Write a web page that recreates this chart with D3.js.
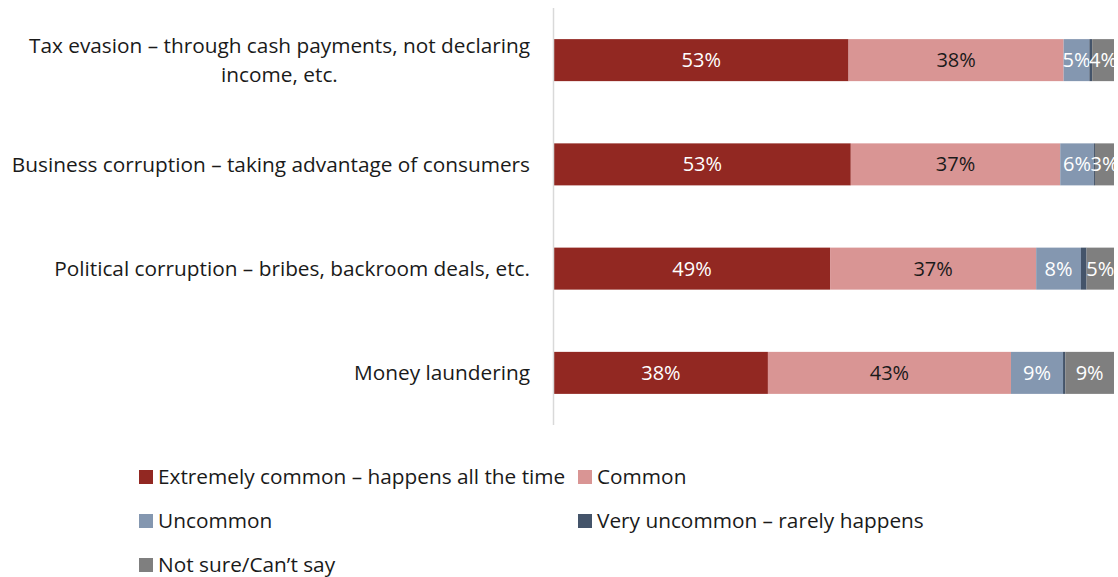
<!DOCTYPE html>
<html>
<head>
<meta charset="utf-8">
<script src="https://cdn.jsdelivr.net/npm/d3@7"></script>
<style>
  html, body { margin: 0; padding: 0; background: #fff; }
  svg { display: block; font-family: "Open Sans", "Noto Sans", sans-serif; }
</style>
</head>
<body>
<svg id="chart" width="1118" height="577"></svg>
<script>
// Survey categories (top to bottom), label lines per category
const categories = [
  ["Tax evasion \u2013 through cash payments, not declaring", "income, etc."],
  ["Business corruption \u2013 taking advantage of consumers"],
  ["Political corruption \u2013 bribes, backroom deals, etc."],
  ["Money laundering"]
];

const seriesNames = [
  "Extremely common \u2013 happens all the time",
  "Common",
  "Uncommon",
  "Very uncommon \u2013 rarely happens",
  "Not sure/Can\u2019t say"
];

// Share of respondents (%) per category, one array per response
const extremelyCommon = [52.6, 53.0, 49.3, 38.2];
const common          = [38.4, 37.4, 36.8, 43.4];
const uncommon        = [4.6, 6.0, 8.0, 9.3];
const veryUncommon    = [0.5, 0.2, 1.0, 0.4];
const notSure         = [3.9, 3.4, 4.9, 8.7];

const seriesColors = ["#922822", "#d99594", "#8497b0", "#44546a", "#7f7f7f"];
const labelColors  = ["#ffffff", "#1a1a1a", "#ffffff", "#ffffff", "#ffffff"];
const minLabelValue = 2;

const series = [extremelyCommon, common, uncommon, veryUncommon, notSure];

const svg = d3.select("#chart");

const y = d3.scaleBand()
  .domain(d3.range(categories.length))
  .range([8, 425])
  .paddingInner(0.597)
  .paddingOuter(0.2985);

const x = d3.scaleLinear().domain([0, 100]).range([554, 1114]);

// Stack the responses left to right
const rows = categories.map((c, i) => {
  const r = { idx: i };
  seriesNames.forEach((s, k) => r[k] = series[k][i]);
  return r;
});
const stacked = d3.stack().keys(d3.range(seriesNames.length))(rows);

const g = svg.append("g");
stacked.forEach((layer, k) => {
  const lg = g.append("g");
  lg.selectAll("rect")
    .data(layer)
    .join("rect")
    .attr("x", d => x(d[0]))
    .attr("y", d => y(d.data.idx))
    .attr("width", d => x(d[1]) - x(d[0]))
    .attr("height", y.bandwidth())
    .attr("fill", seriesColors[k]);
  lg.selectAll("text")
    .data(layer.filter(d => d[1] - d[0] >= minLabelValue))
    .join("text")
    .attr("x", d => (x(d[0]) + x(d[1])) / 2)
    .attr("y", d => y(d.data.idx) + y.bandwidth() / 2)
    .attr("dy", "0.35em")
    .attr("text-anchor", "middle")
    .attr("fill", labelColors[k])
    .style("font-size", "20px")
    .text(d => d3.format(".0f")(d[1] - d[0]) + "%");
});

// Category axis line
svg.append("line")
  .attr("x1", 553.5).attr("x2", 553.5)
  .attr("y1", 8).attr("y2", 425)
  .attr("stroke", "#d9d9d9").attr("stroke-width", 1.5);

// Category labels, right-aligned block, lines centred within the block
const labelRight = 530;
const lineH = 29;
categories.forEach((lines, i) => {
  const cy = y(i) + y.bandwidth() / 2;
  const t = svg.append("text")
    .attr("fill", "#1a1a1a")
    .style("font-size", "20.8px");
  const spans = lines.map((ln, j) => t.append("tspan")
    .attr("y", cy + (j - (lines.length - 1) / 2) * lineH)
    .attr("dy", "0.35em")
    .text(ln));
  const widths = spans.map(s => s.node().getComputedTextLength());
  const maxW = d3.max(widths);
  spans.forEach(s => s.attr("x", labelRight - maxW / 2).attr("text-anchor", "middle"));
});

// Legend
const legendItems = [
  { k: 0, x: 139, y: 477 },
  { k: 1, x: 578, y: 477 },
  { k: 2, x: 139, y: 521 },
  { k: 3, x: 578, y: 521 },
  { k: 4, x: 139, y: 565 }
];
const lg = svg.append("g");
legendItems.forEach(it => {
  lg.append("rect")
    .attr("x", it.x).attr("y", it.y - 7)
    .attr("width", 14).attr("height", 14)
    .attr("fill", seriesColors[it.k]);
  lg.append("text")
    .attr("x", it.x + 19).attr("y", it.y)
    .attr("dy", "0.35em")
    .attr("fill", "#1a1a1a")
    .style("font-size", "20.8px")
    .text(seriesNames[it.k]);
});
</script>
</body>
</html>
